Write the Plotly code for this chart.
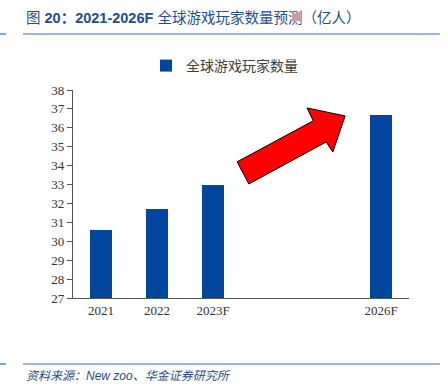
import plotly.graph_objects as go

years = [2021, 2022, 2023, 2026]
tick_labels = ["2021", "2022", "2023F", "2026F"]
players = [30.6, 31.7, 33.0, 36.7]
series_name = "全球游戏玩家数量"

W, H = 448, 391
L, R, T, B = 73, 39, 90, 93

fig = go.Figure()
fig.add_trace(go.Bar(
    x=years, y=players, name=series_name,
    marker=dict(color="#00469C", line=dict(width=0)),
    width=0.39, showlegend=True,
))

# red arrow (decoration) in data coordinates
arrow = [(2023.43, 34.20), (2024.79, 36.37), (2024.68, 37.05), (2025.36, 36.63),
         (2025.14, 34.72), (2025.02, 35.25), (2023.64, 33.03)]
path = "M " + " L ".join(f"{x},{y}" for x, y in arrow) + " Z"
fig.add_shape(type="path", path=path, xref="x", yref="y",
              fillcolor="#FF0000", line=dict(color="#000000", width=1))

blue = "#2E75B6"


def px_x(p):
    return (p - L) / (W - L - R)


def px_y(p):
    return (H - B - p) / (H - T - B)


for ypix in [34, 364]:
    fig.add_shape(type="line", xref="paper", yref="paper",
                  x0=px_x(23), x1=px_x(440), y0=px_y(ypix), y1=px_y(ypix),
                  line=dict(color=blue, width=1.2))
    fig.add_shape(type="line", xref="paper", yref="paper",
                  x0=px_x(0), x1=px_x(6), y0=px_y(ypix), y1=px_y(ypix),
                  line=dict(color=blue, width=1.2))

fig.add_annotation(
    xref="paper", yref="paper", x=px_x(24), y=px_y(18),
    xanchor="left", yanchor="middle", showarrow=False,
    text="图 <b>20：2021-2026F</b> 全球游戏玩家数量预测（亿人）",
    font=dict(family="Liberation Sans, Noto Sans CJK SC", size=14.5, color="#1F4E8F"),
)
fig.add_annotation(
    xref="paper", yref="paper", x=px_x(24), y=px_y(376),
    xanchor="left", yanchor="middle", showarrow=False,
    text="<i>资料来源：New zoo、华金证券研究所</i>",
    font=dict(family="Liberation Sans, Noto Sans CJK SC", size=12, color="#1F4E8F"),
)

fig.update_layout(
    width=W, height=H,
    margin=dict(l=L, r=R, t=T, b=B, pad=0, autoexpand=False),
    paper_bgcolor="white", plot_bgcolor="white",
    showlegend=True,
    legend=dict(x=px_x(146), y=px_y(50), xanchor="left", yanchor="top",
                orientation="h", bgcolor="rgba(0,0,0,0)",
                font=dict(family="Noto Sans CJK SC", size=14, color="#404040")),
    xaxis=dict(range=[2020.5, 2026.5], tickvals=years, ticktext=tick_labels,
               showline=True, linecolor="#555555", linewidth=1.2,
               ticks="", showgrid=False, zeroline=False,
               tickfont=dict(family="Liberation Serif", size=13, color="#333333")),
    yaxis=dict(range=[27, 38], dtick=1, tick0=27,
               showline=True, linecolor="#555555", linewidth=1.2,
               ticks="outside", ticklen=5, tickcolor="#555555",
               showgrid=False, zeroline=False,
               tickfont=dict(family="Liberation Serif", size=13, color="#333333")),
    bargap=0,
)

fig.write_html("out.html", config={"displayModeBar": False},
               post_script="document.body.style.margin='0';")
